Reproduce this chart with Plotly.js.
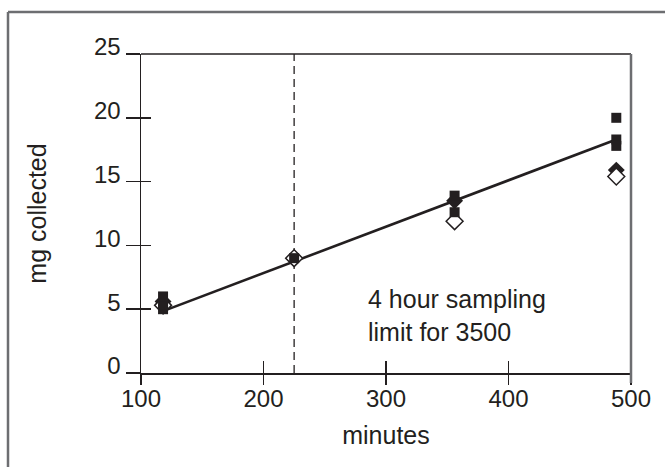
<!DOCTYPE html>
<html>
<head>
<meta charset="utf-8">
<script src="https://cdn.plot.ly/plotly-3.0.1.min.js"></script>
<style>html,body{margin:0;padding:0;background:#fff;}#chart{width:665px;height:467px;}</style>
</head>
<body>
<div id="chart"></div>
<script>
// Data
const squareX = [118, 118, 118, 225, 356, 356, 488, 488, 488];
const squareY = [5.0, 5.4, 6.0, 9.0, 13.9, 12.6, 20.0, 18.3, 17.8];
const filledDiamondX = [118, 225, 356, 488];
const filledDiamondY = [5.6, 9.0, 13.5, 15.9];
const openDiamondX = [118, 225, 356, 488];
const openDiamondY = [5.3, 9.0, 11.9, 15.4];
const fitX = [118, 488];
const fitY = [4.85, 18.3];
const limitMinutes = 225;
const limitY = [0, 25];
const xTickVals = [100, 200, 300, 400, 500];
const yTickVals = [0, 5, 10, 15, 20, 25];
const noteText = "4 hour sampling<br>limit for 3500";
const xTitle = "minutes";
const yTitle = "mg collected";

const FONT = "Liberation Sans, Arial, Helvetica, sans-serif";
const INK = "#231f20";
const FS = 24;

const traces = [
  {x: [limitMinutes, limitMinutes], y: limitY, mode: "lines", line: {color: INK, width: 1.3, dash: "8px,5px"}, hoverinfo: "skip"},
  {x: fitX, y: fitY, mode: "lines", line: {color: INK, width: 2.6}},
  {x: filledDiamondX, y: filledDiamondY, mode: "markers", marker: {symbol: "diamond", size: 13, color: INK}},
  {x: openDiamondX, y: openDiamondY, mode: "markers", marker: {symbol: "diamond", size: 13, color: "#ffffff", line: {color: INK, width: 1.5}}},
  {x: squareX, y: squareY, mode: "markers", marker: {symbol: "square", size: 10, color: INK}},
  {x: [], y: [], xaxis: "x2", yaxis: "y2", mode: "markers", hoverinfo: "skip"}
];

const axisCommon = {showgrid: false, zeroline: false, linecolor: INK, linewidth: 1.5, tickcolor: INK, tickwidth: 1.5,
  tickfont: {family: FONT, size: FS, color: INK}};

const layout = {
  width: 665, height: 467,
  margin: {l: 141, r: 34, t: 54, b: 94, pad: 0},
  paper_bgcolor: "#ffffff", plot_bgcolor: "#ffffff",
  showlegend: false,
  xaxis: Object.assign({}, axisCommon, {range: [100, 500], tickvals: xTickVals, ticks: "outside", ticklen: 10, ticklabelstandoff: -6,
    title: {text: xTitle, font: {family: FONT, size: 25, color: INK}, standoff: 15}}),
  xaxis2: {overlaying: "x", matches: "x", anchor: "y", side: "bottom", range: [100, 500], tickvals: xTickVals,
    ticks: "inside", ticklen: 12, tickcolor: INK, tickwidth: 1.5, showticklabels: false, showgrid: false, zeroline: false, showline: false},
  yaxis: Object.assign({}, axisCommon, {range: [0, 25], tickvals: yTickVals, ticks: "outside", ticklen: 14, ticklabelshift: -7,
    title: {text: yTitle, font: {family: FONT, size: 25, color: INK}, standoff: 40}}),
  yaxis2: {overlaying: "y", matches: "y", anchor: "x", side: "left", range: [0, 25], tickvals: yTickVals,
    ticks: "inside", ticklen: 10, tickcolor: INK, tickwidth: 1.5, showticklabels: false, showgrid: false, zeroline: false, showline: false},
  shapes: [
    {type: "line", xref: "paper", yref: "paper", x0: 0, x1: 1, y0: 1, y1: 1, line: {color: INK, width: 1.5}},
    {type: "line", xref: "paper", yref: "paper", x0: 1, x1: 1, y0: -10/319, y1: 1, line: {color: "#6d6e71", width: 2.5}},
    {type: "line", xref: "paper", yref: "paper", x0: -133/490, x1: 3, y0: 361/319, y1: 361/319, line: {color: "#6d6e71", width: 2.5}},
    {type: "line", xref: "paper", yref: "paper", x0: -133/490, x1: -133/490, y0: -3, y1: 361/319, line: {color: "#6d6e71", width: 2.5}}
  ],
  annotations: [
    {x: 284, y: 4.5, xref: "x", yref: "y", xanchor: "left", yanchor: "middle", align: "left", showarrow: false,
     text: noteText, font: {family: FONT, size: 25, color: INK}}
  ]
};

Plotly.newPlot("chart", traces, layout, {displayModeBar: false, staticPlot: true});
</script>
</body>
</html>
